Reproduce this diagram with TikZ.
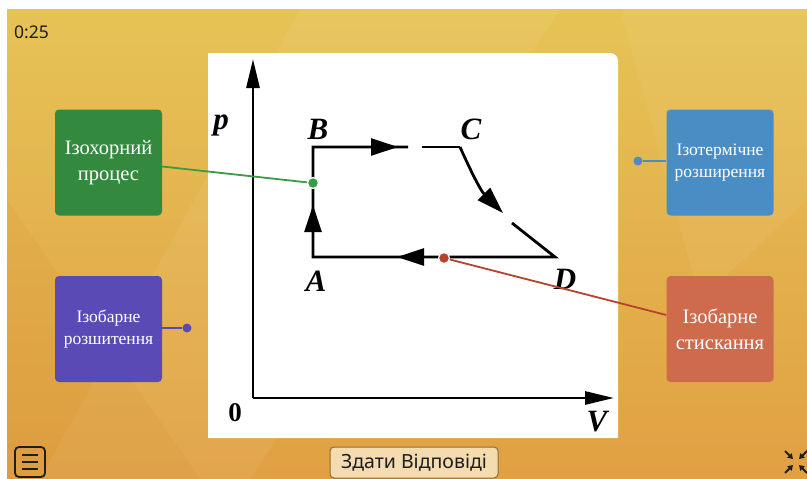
\documentclass[tikz,border=0pt]{standalone}
\usepackage{fontspec}
\setmainfont{Liberation Serif}
\setsansfont{Noto Sans}
\usepackage{tikz}
\usetikzlibrary{arrows.meta,positioning,calc}
\definecolor{QuizSand}{HTML}{E6C356}
\definecolor{QuizAmber}{HTML}{E1A043}
\definecolor{QuizGreen}{HTML}{338A3E}
\definecolor{QuizViolet}{HTML}{5A4AB6}
\definecolor{QuizBlue}{HTML}{4A8DC5}
\definecolor{QuizBrick}{HTML}{CE6B4D}
\definecolor{QuizRed}{HTML}{B8432C}
\definecolor{QuizLeaf}{HTML}{3A9A48}
\definecolor{QuizInk}{HTML}{1E1E1E}
\definecolor{QuizButton}{HTML}{F0CB8E}
\definecolor{QuizEdge}{HTML}{8A6A3C}
\tikzset{
  card/.style={rounded corners=4pt, text=white, align=center,
    minimum width=107pt, minimum height=106pt, inner sep=2pt},
  bigcard/.style={card, font=\fontsize{20.5}{26}\selectfont},
  smallcard/.style={card, font=\fontsize{17.5}{21.5}\selectfont},
  pin/.style={circle, inner sep=0pt, minimum size=9pt},
  leader/.style={line width=1.8pt},
  process/.style={line width=2.8pt, draw=black},
  tip/.style={process, -{Triangle[length=27pt,width=17pt]}},
  axis/.style={process, -{Triangle[length=29pt,width=13pt]}},
  letter/.style={anchor=base, inner sep=0pt,
    font=\fontsize{31}{31}\selectfont\bfseries\itshape}
}

\begin{document}
\begin{tikzpicture}[x=1pt, y=-1pt]
  \useasboundingbox (0,0) rectangle (807,479);
  \fill[white] (0,0) rectangle (807,479);
  % background
  \shade[top color=QuizSand, bottom color=QuizAmber] (7,9) rectangle (807,479);
  \fill[white, opacity=0.06] (300,9) -- (560,9) -- (250,479) -- (40,479) -- cycle;
  \fill[white, opacity=0.05] (620,9) -- (807,9) -- (807,200) -- (700,300) -- cycle;
  \fill[black!30!orange, opacity=0.05] (7,200) -- (200,479) -- (7,479) -- cycle;

  % plot panel
  \fill[white] (208,438) -- (208,53) [rounded corners=8pt] -- (618,53) [sharp corners] -- (618,438) -- cycle;

  % axes
  \coordinate (O) at (253,398);
  \draw[axis] (O) -- (253,59);
  \draw[axis] (O) -- (614,398);
  \node[letter] (plabel) at (221,129) {p};
  \node[letter] (vlabel) at (597,431) {V};
  \node[letter, font=\fontsize{27}{27}\selectfont\bfseries] (zero) at (235,421) {0};

  % cycle ABCD
  \coordinate (A) at (313,257);
  \coordinate (B) at (313,147);
  \coordinate (C) at (460,147);
  \coordinate (D) at (555,257);
  \draw[process] (512,223) -- (D) -- (A) -- (B) -- (408,147);
  \draw[process] (422,147) -- (C);
  \draw[tip] (A) -- (313,205);
  \draw[tip] (B) -- (398,147);
  \draw[tip] (D) -- (397,257);
  \draw[tip] (C) .. controls (468,165) and (480,190) .. (503,213);
  \node[letter] (Alabel) at (316,291) {A};
  \node[letter] (Blabel) at (318,139) {B};
  \node[letter] (Clabel) at (471,139) {C};
  \node[letter] (Dlabel) at (565,289) {D};

  % answer cards
  \node[bigcard, fill=QuizGreen] (isochoric) at (108.5,162.5) {Ізохорний\\процес};
  \node[smallcard, fill=QuizViolet] (isobaricexp) at (108.5,329) {Ізобарне\\розшитення};
  \node[smallcard, fill=QuizBlue] (isothermal) at (720,162.5) {Ізотермічне\\розширення};
  \node[bigcard, fill=QuizBrick] (isobariccomp) at (720,329) {Ізобарне\\стискання};

  % pins and leaders
  \node[pin, fill=QuizLeaf, draw=white, line width=1.2pt, minimum size=11pt] (abpin) at (313,183) {};
  \node[pin, fill=QuizRed, draw=white, line width=1.2pt, minimum size=11pt] (dapin) at (444,258) {};
  \node[pin, fill=QuizBlue] (bluepin) at (638,161) {};
  \node[pin, fill=QuizViolet] (violetpin) at (187,328) {};
  \draw[leader, draw=QuizLeaf] ([yshift=-4pt]isochoric.east) -- (abpin);
  \draw[leader, draw=QuizRed] (dapin) -- ([yshift=14pt]isobariccomp.west);
  \draw[leader, draw=QuizBlue] (bluepin) -- (isothermal.west |- bluepin);
  \draw[leader, draw=QuizViolet] (isobaricexp.east |- violetpin) -- (violetpin);

  % quiz chrome
  \node[anchor=west, inner sep=0pt, text=QuizInk, font=\sffamily\fontsize{17.5}{17.5}\selectfont] (timer) at (14,32) {0:25};
  \node[draw=QuizEdge, line width=1pt, fill=QuizButton!70!white, rounded corners=4pt,
    minimum width=168pt, minimum height=31pt, inner sep=0pt, text=QuizInk,
    font=\sffamily\fontsize{19.5}{19.5}\selectfont] (submit) at (414,462.5) {Здати Відповіді};
  \node[draw=QuizInk, line width=1.8pt, rounded corners=4pt, minimum width=30pt,
    minimum height=30pt, inner sep=0pt] (menu) at (30,462) {};
  \foreach \dy in {-7,0,7}
    \draw[QuizInk, line width=2.6pt] ($(menu.center)+(-8,\dy)$) -- ($(menu.center)+(8,\dy)$);
  \coordinate (shrink) at (796,462);
  \foreach \sx/\sy in {-1/-1,1/-1,-1/1,1/1}
    \draw[QuizInk, line width=1.8pt, -{Triangle[length=5pt,width=6pt]}]
      ($(shrink)+(\sx*11,\sy*11)$) -- ($(shrink)+(\sx*3,\sy*3)$);
\end{tikzpicture}
\end{document}
